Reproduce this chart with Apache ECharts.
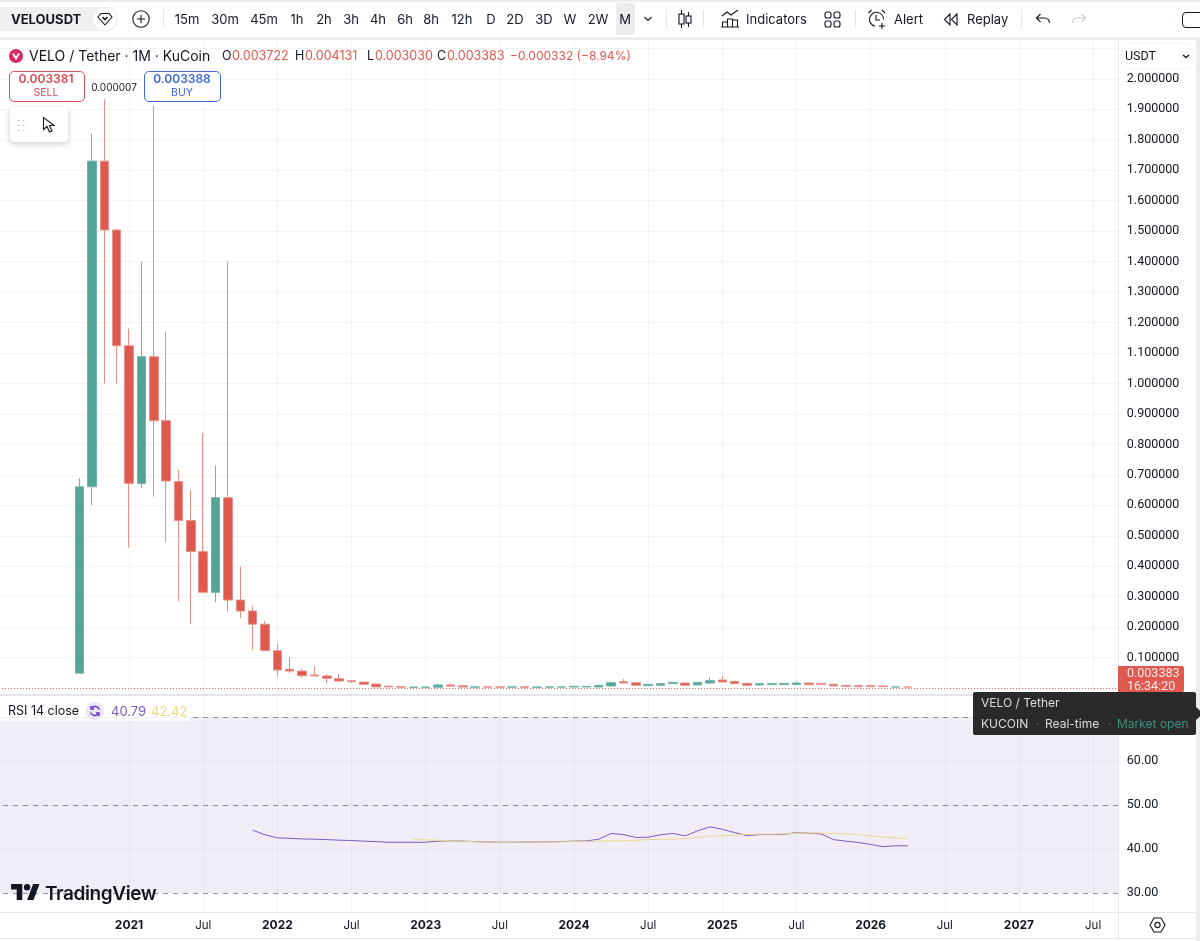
<!DOCTYPE html>
<html>
<head>
<meta charset="utf-8">
<title>VELOUSDT</title>
<script src="https://cdn.jsdelivr.net/npm/echarts@6/dist/echarts.min.js"></script>
<style>
  html, body { margin: 0; padding: 0; background: #fff; }
  body { width: 1200px; height: 941px; position: relative; overflow: hidden; font-family: Inter, "Noto Sans", sans-serif; color: #131722; }
  #chart { position: absolute; left: 0; top: 0; width: 1200px; height: 941px; }
  #ui { position: absolute; left: 0; top: 0; width: 1200px; height: 941px; pointer-events: none; }
  #ui div, #ui svg { position: absolute; }
  .t { white-space: nowrap; line-height: 1; }
</style>
</head>
<body>
<div id="chart"></div>
<div id="ui"></div>
<script>
// monthly candles, Sep 2020 to Apr 2026
var opens = [0.049, 0.661, 1.73, 1.504, 1.124, 0.672, 1.088, 0.878, 0.678, 0.55, 0.448, 0.3145, 0.625, 0.289, 0.253, 0.21, 0.123, 0.062, 0.056, 0.043, 0.04, 0.031, 0.024, 0.02, 0.0135, 0.0065, 0.005, 0.0025, 0.0026, 0.003, 0.0105, 0.0075, 0.0032, 0.0042, 0.004, 0.0032, 0.0042, 0.0028, 0.0032, 0.0034, 0.0036, 0.0036, 0.0036, 0.0069, 0.0211, 0.0178, 0.008, 0.0091, 0.0146, 0.0167, 0.0102, 0.0167, 0.0266, 0.0222, 0.0156, 0.0102, 0.0113, 0.0113, 0.0113, 0.0167, 0.0156, 0.0124, 0.0091, 0.008, 0.008, 0.0069, 0.0035, 0.003722];
var closes = [0.661, 1.73, 1.504, 1.124, 0.672, 1.088, 0.878, 0.68, 0.55, 0.448, 0.3145, 0.625, 0.289, 0.253, 0.21, 0.123, 0.0594, 0.056, 0.0407, 0.04, 0.032, 0.023, 0.021, 0.0125, 0.0037, 0.004, 0.003, 0.0035, 0.0036, 0.0102, 0.0065, 0.0035, 0.004, 0.0032, 0.003, 0.004, 0.0032, 0.0038, 0.004, 0.0042, 0.0058, 0.0052, 0.0091, 0.0178, 0.0167, 0.0091, 0.0124, 0.0146, 0.0189, 0.0091, 0.0189, 0.0244, 0.02, 0.0146, 0.0091, 0.0146, 0.0146, 0.0156, 0.0167, 0.0113, 0.0124, 0.0069, 0.0058, 0.0047, 0.0047, 0.0047, 0.0037, 0.003383];
var lows = [0.049, 0.601, 1.0, 1.0, 0.461, 0.658, 0.628, 0.479, 0.285, 0.21, 0.3145, 0.282, 0.251, 0.231, 0.125, 0.123, 0.0374, 0.0496, 0.034, 0.038, 0.016, 0.022, 0.017, 0.011, 0.0033, 0.0035, 0.0025, 0.002, 0.0022, 0.0025, 0.0055, 0.003, 0.0028, 0.003, 0.0027, 0.003, 0.003, 0.0026, 0.003, 0.0032, 0.0034, 0.0034, 0.0034, 0.006, 0.0145, 0.008, 0.007, 0.0075, 0.0135, 0.0085, 0.0095, 0.0135, 0.018, 0.0135, 0.008, 0.0085, 0.0102, 0.01, 0.01, 0.01, 0.011, 0.006, 0.005, 0.004, 0.004, 0.004, 0.0032, 0.00303];
var highs = [0.689, 1.82, 1.933, 1.506, 1.18, 1.4, 1.911, 1.17, 0.716, 0.65, 0.838, 0.73, 1.4, 0.399, 0.27, 0.22, 0.145, 0.101, 0.062, 0.0725, 0.046, 0.046, 0.025, 0.021, 0.014, 0.0072, 0.0055, 0.004, 0.004, 0.0155, 0.014, 0.0085, 0.0044, 0.0046, 0.0044, 0.0044, 0.0046, 0.0042, 0.0044, 0.0046, 0.006, 0.0056, 0.011, 0.021, 0.03, 0.019, 0.0135, 0.016, 0.02, 0.018, 0.02, 0.0353, 0.0408, 0.0235, 0.0189, 0.016, 0.0156, 0.017, 0.0222, 0.018, 0.017, 0.0146, 0.01, 0.009, 0.009, 0.008, 0.0048, 0.004131];
// rsi starts Nov 2021, its moving average Dec 2022
var rsiValues = [44.34, 43.3, 42.6, 42.5, 42.35, 42.3, 42.2, 42.07, 42.0, 41.85, 41.75, 41.6, 41.6, 41.6, 41.6, 41.85, 41.95, 41.85, 41.75, 41.65, 41.6, 41.6, 41.65, 41.65, 41.7, 41.75, 41.85, 41.9, 42.3, 43.6, 43.35, 42.7, 42.75, 43.3, 43.6, 43.05, 44.2, 45.1, 44.55, 43.8, 43.1, 43.35, 43.35, 43.4, 43.8, 43.65, 43.5, 42.2, 41.85, 41.55, 41.1, 40.6, 40.8, 40.79];
var rsiMaValues = [42.2, 42.15, 42.05, 41.95, 41.85, 41.7, 41.65, 41.6, 41.6, 41.65, 41.65, 41.65, 41.7, 41.75, 41.8, 41.85, 41.9, 41.95, 42.05, 42.2, 42.25, 42.3, 42.45, 42.7, 43.0, 43.1, 43.2, 43.4, 43.45, 43.45, 43.5, 43.7, 43.7, 43.7, 43.6, 43.5, 43.35, 43.05, 42.8, 42.6, 42.42];
var lastPrice = 0.003383;

// axis runs Feb 2020 to Sep 2027
var categories = [];
for (var y = 2020, m = 2; categories.length < 92; m++) {
  if (m > 12) { m = 1; y++; }
  categories.push(y + '-' + (m < 10 ? '0' + m : m));
}
var candleStart = categories.indexOf('2020-09');
var rsiStart = categories.indexOf('2021-11');
var rsiMaStart = categories.indexOf('2022-12');

var padded = function (values, start, empty) {
  var out = [];
  for (var i = 0; i < start; i++) out.push(empty);
  return out.concat(values);
};
var candleData = opens.map(function (o, i) {
  return [o, closes[i], lows[i], highs[i]];
});

var gridColor = 'rgba(42,46,57,0.06)';
var isLabelled = function (i, name) {
  var p = name.split('-');
  return p[0] >= 2021 && (p[1] === '01' || p[1] === '07');
};

var chart = echarts.init(document.getElementById('chart'));
chart.setOption({
  animation: false,
  textStyle: { fontFamily: 'Inter' },
  // 12.36px a month, with the first and last month on the grid edges
  grid: [
    { left: -6.92, width: 1124.76, top: 40, height: 648.1, outerBoundsMode: 'none' },
    { left: -6.92, width: 1124.76, top: 688.1, height: 205.2, outerBoundsMode: 'none' }
  ],
  xAxis: [
    {
      type: 'category', gridIndex: 0, data: categories, boundaryGap: false,
      axisLine: { show: false }, axisTick: { show: false }, axisLabel: { show: false, interval: isLabelled },
      splitLine: { show: true, interval: isLabelled, lineStyle: { color: gridColor } }
    },
    {
      type: 'category', gridIndex: 1, data: categories, boundaryGap: false,
      axisLine: { show: false },
      axisTick: { show: true, interval: isLabelled, length: 18.7, lineStyle: { color: gridColor } },
      splitLine: { show: true, interval: isLabelled, lineStyle: { color: gridColor } },
      axisLabel: {
        interval: isLabelled, margin: 26, color: '#131722', fontSize: 11.5, fontFamily: 'Inter',
        formatter: function (name) {
          var p = name.split('-');
          return p[1] === '01' ? '{year|' + p[0] + '}' : 'Jul';
        },
        rich: { year: { fontWeight: 700, fontSize: 12, fontFamily: 'Inter', color: '#131722' } }
      }
    }
  ],
  yAxis: [
    {
      type: 'value', gridIndex: 0, position: 'right', min: 0, max: 2.1277, interval: 0.1,
      axisLine: { show: false }, axisTick: { show: false },
      splitLine: { show: true, showMinLine: false, showMaxLine: false, lineStyle: { color: gridColor } },
      axisLabel: {
        margin: 9, color: '#131722', fontSize: 12.5, fontFamily: 'Roboto', padding: [2, 0, 0, 0],
        formatter: function (v) {
          return v > 0.05 && v < 2.05 ? v.toFixed(6) : '';
        }
      }
    },
    {
      type: 'value', gridIndex: 1, position: 'right', min: 30, max: 76.64, interval: 10,
      axisLine: { show: false }, axisTick: { show: false },
      splitLine: { show: true, showMinLine: false, showMaxLine: false, lineStyle: { color: gridColor } },
      axisLabel: {
        margin: 9, color: '#131722', fontSize: 12.5, fontFamily: 'Roboto', padding: [2, 0, 0, 0],
        formatter: function (v) {
          return v < 75 ? v.toFixed(2) : '';
        }
      }
    }
  ],
  series: [
    {
      type: 'candlestick', name: 'VELOUSDT', xAxisIndex: 0, yAxisIndex: 0, barWidth: 9,
      data: padded(candleData, candleStart, ['-', '-', '-', '-']),
      itemStyle: { color: '#52a498', color0: '#e0594f', borderColor: '#6fb3a9', borderColor0: '#e8918b', borderWidth: 1 },
      markLine: {
        silent: true, symbol: 'none', label: { show: false },
        lineStyle: { color: '#e0594f', type: [1, 2], width: 1.2 },
        data: [{ yAxis: lastPrice }]
      }
    },
    {
      type: 'line', name: 'RSI', xAxisIndex: 1, yAxisIndex: 1, symbol: 'none', z: 4,
      data: padded(rsiValues, rsiStart, '-'),
      lineStyle: { color: '#7e57c2', width: 1 },
      markArea: {
        silent: true, itemStyle: { color: 'rgba(120,87,180,0.105)' },
        data: [[{ yAxis: 70 }, { yAxis: 30 }]]
      },
      markLine: {
        silent: true, symbol: 'none', label: { show: false },
        lineStyle: { color: '#8b8d98', type: [5, 5], width: 1 },
        data: [{ yAxis: 70 }, { yAxis: 50 }, { yAxis: 30 }]
      }
    },
    {
      type: 'line', name: 'RSI MA', xAxisIndex: 1, yAxisIndex: 1, symbol: 'none', z: 5,
      data: padded(rsiMaValues, rsiMaStart, '-'),
      lineStyle: { color: '#f0d48a', width: 1 }
    }
  ]
});

// everything round the chart: toolbar, legends, price tag
var ui = document.getElementById('ui');
var box = function (x, y, w, h, css) {
  var d = document.createElement('div');
  d.style.cssText = 'left:' + x + 'px;top:' + y + 'px;width:' + w + 'px;height:' + h + 'px;' + (css || '');
  ui.appendChild(d);
  return d;
};
// align: 0 left edge at x, 0.5 centred on x
var text = function (str, x, y, size, color, css, align) {
  var d = document.createElement('div');
  d.className = 't';
  d.textContent = str;
  d.style.cssText = 'left:' + x + 'px;top:' + y + 'px;font-size:' + size + 'px;color:' + (color || '#131722') + ';' +
    'transform:translate(' + (-(align || 0) * 100) + '%,-50%);' + (css || '');
  ui.appendChild(d);
  return d;
};
var icon = function (x, y, w, h, inner, css) {
  var wrap = document.createElement('div');
  wrap.style.cssText = 'left:' + x + 'px;top:' + y + 'px;width:' + w + 'px;height:' + h + 'px;' + (css || '');
  wrap.innerHTML = '<svg style="left:0;top:0" width="' + w + '" height="' + h + '" viewBox="0 0 ' + w + ' ' + h + '" fill="none" stroke="#131722" stroke-width="1.1">' + inner + '</svg>';
  ui.appendChild(wrap);
};

// frame
var lineColor = '#e3e5ea';
box(0, 0, 1200, 2, 'background:#ececec');
box(0, 37, 1200, 3, 'background:#ececec');
box(0, 694, 1196, 2, 'background:' + lineColor);
box(0, 912, 1196, 1, 'background:' + lineColor);
box(0, 938, 1196, 1, 'background:' + lineColor);
box(1118, 40, 1, 898, 'background:' + lineColor);
box(1196, 40, 4, 901, 'background:#ececec');

// toolbar
box(0, 7, 118, 24, 'background:#f0f0f0;border-radius:0 12px 12px 0');
text('VELOUSDT', 11, 19, 13, '#131722', 'font-weight:700');
box(93, 8, 23, 22, 'background:#fff;border-radius:11px');
icon(97, 12, 16, 14, '<path d="M4 1.5h8l3 3.5-7 8-7-8z"/><path d="M5.5 5l2.5 2.5L10.5 5" stroke-width="1.6"/>');
icon(132, 10, 18, 18, '<circle cx="9" cy="9" r="8.2"/><path d="M9 5v8M5 9h8"/>');
box(163, 10, 1, 18, 'background:' + lineColor);
box(616, 3, 19, 32, 'background:#ececec;border-radius:3px');
var intervals = ['15m', '30m', '45m', '1h', '2h', '3h', '4h', '6h', '8h', '12h', 'D', '2D', '3D', 'W', '2W', 'M'];
var intervalX = [187, 225, 264, 297, 324, 351, 378, 405, 431, 462, 491, 515, 544, 570, 598, 625];
intervals.forEach(function (s, i) { text(s, intervalX[i], 19, 13, '#131722', '', 0.5); });
icon(643, 16, 10, 6, '<path d="M1.5 1l3.5 3.5L8.5 1"/>');
box(666, 10, 1, 18, 'background:' + lineColor);
icon(677, 9, 16, 20, '<path d="M4.5 1v18M11.5 3v15"/><rect x="2" y="5" width="5" height="10" fill="#fff"/><rect x="9" y="7" width="5" height="7" fill="#fff"/>');
box(703, 10, 1, 18, 'background:' + lineColor);
icon(721, 9, 19, 19, '<path d="M1 7l5-4 4 3 7-5"/><path d="M1.5 18v-5h5v5M6.5 18v-8h5v8M11.5 18v-7h5v7M0 18h18"/>');
text('Indicators', 746, 19, 13, '#131722');
icon(824, 11, 17, 17, '<rect x="1" y="1" width="6" height="6" rx="2"/><rect x="10" y="1" width="6" height="6" rx="2"/><rect x="1" y="10" width="6" height="6" rx="2"/><rect x="10" y="10" width="6" height="6" rx="2"/>');
box(855, 10, 1, 18, 'background:' + lineColor);
icon(867, 9, 20, 21, '<path d="M11 3.5a7 7 0 1 0 -3 13.7"/><path d="M9 6v5h4M1.5 4l3-3M15 1l3 3M15 14v6M12 17h6"/><path d="M11 3.5a7 7 0 0 1 5.5 7"/>');
text('Alert', 894, 19, 13, '#131722');
icon(943, 13, 16, 13, '<path d="M7 1L1.5 6.5 7 12zM14 1L8.5 6.5 14 12z"/>');
text('Replay', 967, 19, 13, '#131722');
box(1021, 10, 1, 18, 'background:' + lineColor);
icon(1035, 13, 16, 12, '<path d="M5.5 1L1.5 5l4 4M1.5 5h8c3 0 5 2 5 5"/>');
icon(1071, 13, 16, 12, '<path d="M10.5 1l4 4-4 4M14.5 5h-8c-3 0-5 2-5 5" stroke="#c8cad0"/>');
box(1182, 12, 30, 14, 'border:1px solid #131722;border-radius:4px');

// symbol legend
box(9, 49, 14, 14, 'background:#d6295f;border-radius:7px');
icon(12, 52, 8, 8, '<path d="M1 1.5L4 6.5 7 1.5" stroke="#fff" stroke-width="1.8"/>');
text('VELO / Tether \u00b7 1M \u00b7 KuCoin', 29, 56, 14, '#131722');
var red = '#e0594f';
text('O', 222, 56, 12.5); text('0.003722', 232, 56, 12.5, red);
text('H', 295, 56, 12.5); text('0.004131', 305, 56, 12.5, red);
text('L', 367, 56, 12.5); text('0.003030', 375, 56, 12.5, red);
text('C', 437, 56, 12.5); text('0.003383', 447, 56, 12.5, red);
text('\u22120.000332 (\u22128.94%)', 510, 56, 12, red);

// sell and buy
box(9, 71, 74, 29, 'border:1px solid #d9545a;border-radius:5px;background:#fff');
text('0.003381', 46, 79, 12, '#d9484f', 'font-weight:600', 0.5);
text('SELL', 46, 93, 10.5, '#d9484f', '', 0.5);
text('0.000007', 114, 87, 10, '#131722', '', 0.5);
box(144, 71, 75, 29, 'border:1px solid #4169d8;border-radius:5px;background:#fff');
text('0.003388', 182, 79, 12, '#3e66d6', 'font-weight:600', 0.5);
text('BUY', 182, 93, 10.5, '#3e66d6', '', 0.5);

// drawing toolbar
box(10, 107, 58, 35, 'background:#fff;border-radius:4px;box-shadow:0 2px 6px rgba(0,0,0,0.2)');
icon(17, 119, 8, 13, '<path d="M1.5 1v1M6.5 1v1M1.5 6v1M6.5 6v1M1.5 11v1M6.5 11v1" stroke="#b5b7bf" stroke-width="1.5"/>');
icon(42, 116, 14, 18, '<path d="M1.5 1.5v12l3.5-3 2.5 5.5 2.5-1-2.5-5.5 4.5-.2z"/>');

// price axis
box(1122, 44, 70, 24, 'background:#fff;border-radius:3px;box-shadow:0 0 2px rgba(0,0,0,0.15)');
text('USDT', 1125, 56, 12.5, '#131722', 'font-family:Roboto');
icon(1182, 54, 8, 5, '<path d="M1 1l3 2.5L7 1" stroke-width="1.4"/>');
box(1118, 666, 66, 26, 'background:#e0594f;border-radius:0 2px 2px 0');
text('0.003383', 1127, 673, 12.5, '#ffe9e6', 'font-family:Roboto');
text('16:34:20', 1127, 686, 12.5, '#ffe9e6', 'font-family:Roboto');
icon(1149, 916, 17, 18, '<path d="M5 2h7l4 7-4 7H5L1 9z"/><circle cx="8.5" cy="9" r="2.6"/>');

// symbol tooltip
box(973, 692, 223, 43, 'background:#2a2a2a;border-radius:2px');
box(1192, 709, 9, 9, 'background:#2a2a2a;transform:rotate(45deg)');
text('VELO / Tether', 981, 703, 12, '#dcdcdc');
text('KUCOIN', 981, 724, 12, '#dcdcdc');
text('\u00b7', 1036, 724, 12, '#777');
text('Real-time', 1045, 724, 12, '#dcdcdc');
text('\u00b7', 1108, 724, 12, '#777');
text('Market open', 1117, 724, 12, '#3d8f7c');

// rsi legend
box(0, 700, 190, 21, 'background:rgba(255,255,255,0.8)');
text('RSI 14 close', 8, 711, 12.5);
box(86, 702, 18, 18, 'background:#e9e5f6;border-radius:9px');
icon(89, 705, 12, 12, '<path d="M10.5 4.5A5 5 0 0 0 2 3.5M1.5 7.5A5 5 0 0 0 10 8.5M2 1v3h3M10 11V8H7" stroke="#6a3fd0" stroke-width="1.5"/>');
text('40.79', 111, 711, 13, '#7e57c2');
text('42.42', 151, 711, 13, '#ecd87c');

// watermark
var logo = document.createElement('div');
logo.style.cssText = 'left:11px;top:884px;width:29px;height:16px';
logo.innerHTML = '<svg style="left:0;top:0" width="29" height="16" viewBox="0 0 36 20"><path fill="#131722" d="M14 20H7V7H0V0h14zM28 20h-8L27.5 0h8z"/><circle fill="#131722" cx="20" cy="4" r="4"/></svg>';
ui.appendChild(logo);
text('TradingView', 45, 893, 19, '#131722', 'font-weight:600;letter-spacing:-0.4px');
</script>
</body>
</html>
